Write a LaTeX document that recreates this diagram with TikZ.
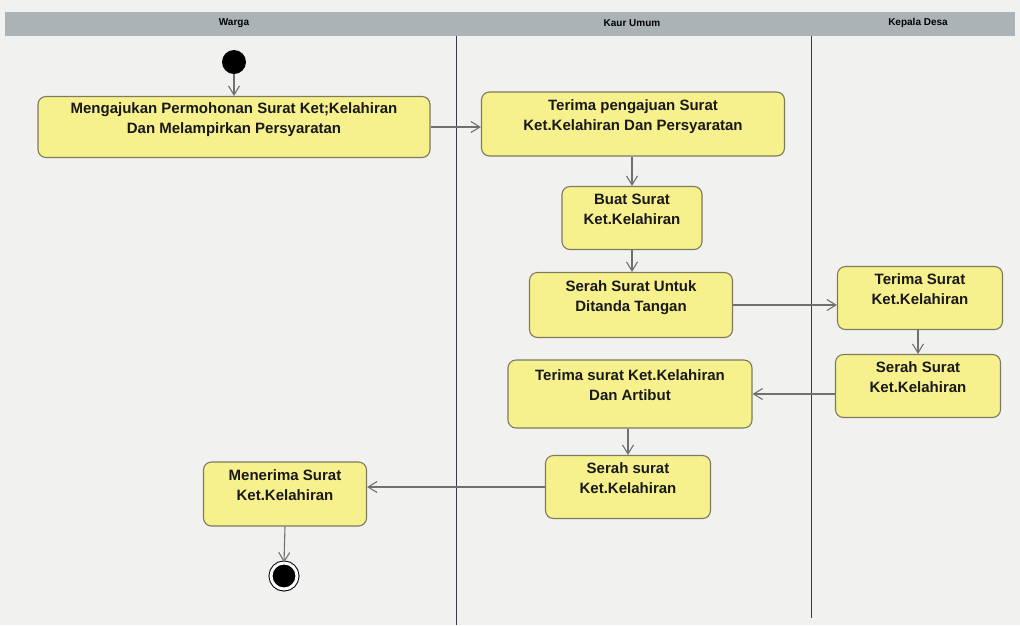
\documentclass[tikz,border=0pt]{standalone}
\usepackage{fontspec}
\setmainfont{Liberation Sans}
\usepackage{tikz}
\usetikzlibrary{arrows.meta}
\definecolor{paper} {RGB} {241, 241, 239}
\definecolor{lanehead} {RGB} {172, 179, 182}
\definecolor{laneline} {RGB} {55, 58, 72}
\definecolor{actfill} {RGB} {246, 241, 140}
\definecolor{actdraw} {RGB} {125, 122, 95}
\definecolor{flowgray} {RGB} {112, 112, 112}
\tikzstyle{action}=[
  draw=actdraw, fill=actfill, rounded corners=8pt, line width=1.1pt, align=center,
  inner sep=0pt, text depth=17pt, text=black!90, font=\bfseries\fontsize{15}{20}\selectfont
]
\tikzstyle{flow}=[draw=flowgray, line width=1.1pt, -{Straight Barb[length=9pt,width=11pt]}]
\tikzstyle{lanetitle}=[font=\bfseries\fontsize{10}{11}\selectfont]

\begin{document}
\begin{tikzpicture}[x=1pt,y=-1pt]
      \useasboundingbox[fill=paper] (0,0) rectangle (1020,625);
      % swimlanes
      \fill[lanehead] (5,12) rectangle (1015,36);
      \draw[laneline, line width=1pt] (456,36) -- (456,625);
      \draw[laneline, line width=1pt] (811,36) -- (811,618);
      \node[lanetitle] (warga) at (234,23) {Warga};
      \node[lanetitle] (kaur) at (632,23) {Kaur Umum};
      \node[lanetitle] (kades) at (918,23) {Kepala Desa};
      % actions
      \node[circle,fill=black,inner sep=0pt,minimum size=24pt] (start) at (234,62) {};
      \node[action,minimum width=392pt,minimum height=61pt] (ajukan) at (234,127)
        {Mengajukan Permohonan Surat Ket;Kelahiran\\Dan Melampirkan Persyaratan};
      \node[action,minimum width=303pt,minimum height=64pt] (terima) at (633,124)
        {Terima pengajuan Surat\\Ket.Kelahiran Dan Persyaratan};
      \node[action,minimum width=140pt,minimum height=63pt] (buat) at (632,218)
        {Buat Surat\\Ket.Kelahiran};
      \node[action,minimum width=203pt,minimum height=65pt] (serahttd) at (631,305)
        {Serah Surat Untuk\\Ditanda Tangan};
      \node[action,minimum width=165pt,minimum height=63pt] (kdterima) at (920,298)
        {Terima Surat\\Ket.Kelahiran};
      \node[action,minimum width=165pt,minimum height=63pt] (kdserah) at (918,386)
        {Serah Surat\\Ket.Kelahiran};
      \node[action,minimum width=244pt,minimum height=68pt] (terimaatr) at (630,394)
        {Terima surat Ket.Kelahiran\\Dan Artibut};
      \node[action,minimum width=165pt,minimum height=63pt] (serahwarga) at (628,487)
        {Serah surat\\Ket.Kelahiran};
      \node[action,minimum width=163pt,minimum height=64pt] (menerima) at (285,494)
        {Menerima Surat\\Ket.Kelahiran};
      \node[circle,fill=black,inner sep=0pt,minimum size=26pt,draw=black,line width=1pt,
        double=white,double distance=3pt] (finish) at (284,576) {};
      % flows
      \draw[flow] (start) -- (ajukan);
      \draw[flow] (ajukan.east) -- (ajukan.east -| terima.west);
      \draw[flow] (buat.north |- terima.south) -- (buat.north);
      \draw[flow] (buat.south) -- (buat.south |- serahttd.north);
      \draw[flow] (serahttd.east) -- (serahttd.east -| kdterima.west);
      \draw[flow] (kdserah.north |- kdterima.south) -- (kdserah.north);
      \draw[flow] (terimaatr.east -| kdserah.west) -- (terimaatr.east);
      \draw[flow] (serahwarga.north |- terimaatr.south) -- (serahwarga.north);
      \draw[flow] (serahwarga.west) -- (serahwarga.west -| menerima.east);
      \draw[flow] (menerima.south) -- (finish.north);
\end{tikzpicture}
\end{document}
